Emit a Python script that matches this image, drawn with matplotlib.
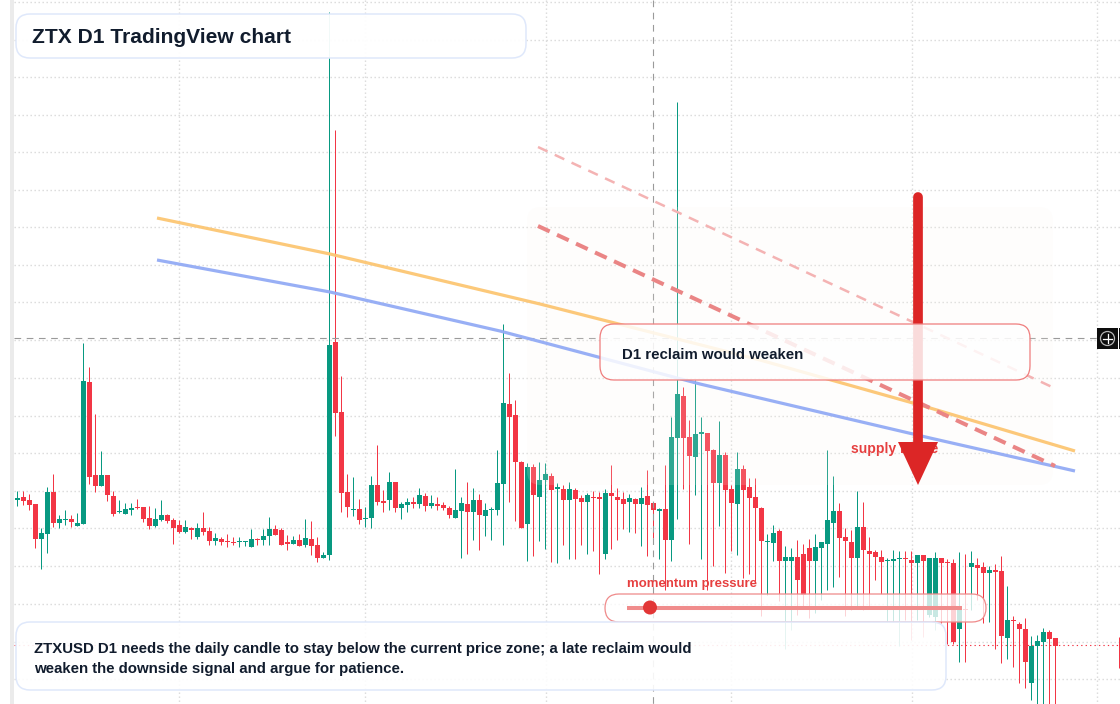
import matplotlib
matplotlib.use('Agg')
import matplotlib.pyplot as plt
from matplotlib.patches import Circle, FancyBboxPatch, Polygon, Rectangle

GREEN = '#089981'
RED = '#f23645'
INK = '#111c2d'
W, H = 1120, 704

# daily candles, levels on the chart's downward scale
high = [
    491, 491, 494, 504, 528, 487, 474, 515, 510, 515,
    513, 343, 367, 414, 451, 475, 491, 500, 503, 503,
    499, 507, 506, 508, 500, 514, 518, 520, 520, 527,
    523, 512, 527, 533, 537, 534, 537, 537, 541, 529,
    538, 529, 517, 525, 528, 535, 536, 534, 519, 521,
    537, 552, 12, 130, 376, 474, 477, 499, 507, 476,
    445, 490, 472, 482, 502, 498, 497, 488, 493, 495,
    497, 502, 506, 469, 497, 482, 488, 494, 503, 507,
    450, 324, 373, 400, 461, 463, 464, 462, 463, 473,
    483, 485, 482, 488, 495, 493, 491, 492, 489, 465,
    488, 492, 494, 498, 487, 470, 503, 508, 465, 417,
    102, 387, 420, 380, 417, 433, 449, 421, 452, 485,
    452, 465, 478, 478, 507, 534, 525, 529, 546, 548,
    540, 544, 539, 534, 542, 450, 476, 503, 528, 530,
    491, 502, 537, 550, 550, 558, 550, 551, 551, 551,
    555, 555, 558, 552, 558, 559, 559, 552, 554, 551,
    558, 562, 566, 564, 556, 586, 616, 622, 618, 636,
    635, 628, 630, 638,
]
body_top = [
    498, 497, 500, 504, 533, 492, 492, 519, 519, 519,
    523, 381, 382, 475, 475, 475, 496, 511, 509, 508,
    507, 507, 518, 519, 515, 515, 520, 525, 527, 528,
    528, 528, 531, 538, 539, 541, 542, 541, 541, 539,
    539, 536, 529, 529, 530, 542, 540, 540, 538, 539,
    545, 555, 345, 342, 412, 492, 509, 509, 518, 485,
    485, 501, 482, 482, 504, 502, 502, 495, 496, 503,
    504, 505, 508, 510, 503, 504, 500, 500, 510, 509,
    483, 403, 404, 415, 462, 467, 467, 480, 474, 476,
    487, 489, 489, 490, 498, 495, 497, 497, 493, 493,
    497, 499, 498, 499, 498, 496, 503, 509, 509, 437,
    394, 396, 437, 434, 432, 433, 450, 455, 455, 489,
    469, 469, 487, 497, 508, 541, 533, 531, 557, 557,
    557, 554, 548, 547, 542, 520, 511, 511, 537, 542,
    527, 527, 551, 552, 557, 560, 559, 558, 558, 560,
    555, 555, 558, 558, 558, 562, 563, 610, 609, 563,
    565, 567, 570, 570, 571, 620, 620, 624, 629, 646,
    641, 632, 632, 638,
]
body_bottom = [
    500, 501, 505, 539, 539, 534, 523, 523, 520, 522,
    526, 524, 477, 486, 486, 495, 514, 512, 514, 510,
    508, 519, 526, 526, 520, 521, 528, 532, 532, 530,
    537, 532, 541, 541, 542, 542, 543, 542, 542, 547,
    540, 540, 536, 535, 545, 544, 544, 546, 545, 546,
    558, 558, 555, 413, 493, 507, 510, 520, 519, 518,
    502, 503, 500, 508, 508, 505, 504, 504, 506, 506,
    506, 508, 515, 518, 511, 512, 512, 515, 516, 510,
    510, 484, 417, 462, 528, 524, 495, 497, 480, 490,
    489, 500, 500, 499, 502, 502, 498, 499, 554, 496,
    500, 504, 502, 504, 504, 505, 510, 511, 540, 540,
    438, 438, 456, 457, 434, 451, 483, 483, 490, 503,
    504, 490, 498, 508, 541, 542, 543, 561, 561, 561,
    580, 595, 561, 561, 548, 544, 523, 538, 541, 558,
    558, 550, 554, 557, 562, 561, 561, 559, 559, 563,
    563, 561, 615, 617, 563, 563, 642, 629, 610, 567,
    568, 573, 573, 572, 636, 638, 621, 629, 662, 683,
    646, 642, 639, 646,
]
low = [
    506, 505, 510, 548, 569, 553, 527, 528, 525, 527,
    526, 524, 484, 492, 486, 501, 516, 513, 514, 515,
    509, 522, 529, 527, 521, 523, 544, 533, 533, 539,
    539, 535, 545, 545, 545, 547, 545, 547, 546, 547,
    545, 545, 545, 535, 545, 550, 544, 546, 547, 555,
    562, 558, 560, 436, 512, 517, 516, 524, 527, 528,
    505, 512, 510, 512, 519, 512, 508, 508, 511, 508,
    510, 510, 518, 518, 558, 554, 540, 550, 536, 540,
    515, 545, 502, 521, 528, 561, 556, 541, 549, 562,
    563, 545, 559, 559, 545, 554, 551, 574, 559, 549,
    540, 529, 532, 533, 546, 556, 538, 559, 590, 561,
    519, 489, 544, 495, 559, 590, 566, 526, 573, 551,
    555, 578, 574, 581, 616, 595, 561, 601, 649, 630,
    615, 607, 618, 613, 600, 590, 587, 577, 616, 610,
    606, 610, 608, 580, 594, 622, 622, 646, 620, 640,
    620, 637, 617, 630, 623, 644, 644, 662, 662, 610,
    600, 623, 622, 649, 663, 659, 667, 683, 688, 700,
    710, 710, 710, 710,
]
direction = (
    'grrrggrggr' 'ggrrgrrggg' 'rrrggrrrgr' 'grrgrrrggg' 'rggrrrgrgr'
    'rggrrrgrgg' 'rrgrggrgrg' 'rrrggrgrgg' 'ggrrrgrggr' 'grgrrgrrgr'
    'rrgrgrrgrg' 'grrggrrgrr' 'grrrrggrgg' 'rrrggggrrr' 'grrrrgggrr'
    'grggrrrgrg' 'rrgrrgrrrg' 'ggrr'
)

grid_levels = [2, 40, 77, 115, 152, 190, 227, 265, 302, 340, 378, 416, 453, 491, 528, 566, 604, 642, 679]
grid_bars = [26.9, 57.9, 88.1, 118.9, 149.1, 179.9]
crosshair_level = 338.2
crosshair_bar = 105.96
last_level = 645
stray_bar, stray_high, stray_low = 183.6, 637, 668

# two averages and two resistance trend lines, in screen pixels
orange_x = [157, 330, 540, 760, 920, 1075]
orange_y = [218, 254, 304, 360, 405, 451]
blue_x = [157, 330, 500, 700, 930, 1075]
blue_y = [260, 292, 331, 384, 438, 471]
trend_x = [538, 1055]
trend_y = [226, 466]
upper_x = [538, 1052]
upper_y = [147, 387]

title = 'ZTX D1 TradingView chart'
callout = 'D1 reclaim would weaken'
zone_label = 'supply range'
pressure_label = 'momentum pressure'
note_lines = [
    'ZTXUSD D1 needs the daily candle to stay below the current price zone; a late reclaim would',
    'weaken the downside signal and argue for patience.',
]

plt.rcParams['font.family'] = ['Liberation Sans', 'DejaVu Sans']
fig = plt.figure(figsize=(W / 100, H / 100), dpi=100, facecolor='white')

# candle axes: one x unit is one bar, 6 px wide
chart = fig.add_axes([0, 0, 1, 1])
x_min, x_max = -17.5 / 6, (W - 17.5) / 6
chart.set_xlim(x_min, x_max)
chart.set_ylim(H, 0)
chart.axis('off')

left_edge = (14 - 17.5) / 6
dotted = [(0, (1.0, 1.88))]
chart.hlines(grid_levels, left_edge, x_max, color='#d9d9d9', lw=1.0, linestyles=dotted, zorder=1)
chart.vlines(grid_bars, 0, H, color='#d9d9d9', lw=1.0, linestyles=dotted, zorder=1)

for i in range(len(high)):
    color = GREEN if direction[i] == 'g' else RED
    # nudged so the 1 px wick snaps to the middle of the 5 px body
    chart.vlines(i - 0.04, high[i], low[i], color=color, lw=0.72, zorder=3)
    height = max(body_bottom[i] - body_top[i], 1)
    chart.bar(i, height, bottom=body_top[i], width=0.83, color=color, lw=0, zorder=4)
chart.vlines(stray_bar, stray_high, stray_low, color=RED, lw=0.72, zorder=3)

chart.hlines(last_level, left_edge, x_max, color=RED, lw=0.8, linestyles=[(0, (1.2, 2.8))], zorder=2)
chart.hlines(crosshair_level, left_edge, (1097 - 17.5) / 6, color='#9a9a9a', lw=0.8, linestyles=[(0, (6, 5))], zorder=5)
chart.vlines(crosshair_bar, 0, H, color='#9a9a9a', lw=0.8, linestyles=[(0, (6, 5))], zorder=5)

# everything annotated on top of the candles lives in pixel coordinates
top = fig.add_axes([0, 0, 1, 1])
top.set_xlim(0, W)
top.set_ylim(H, 0)
top.axis('off')
top.patch.set_alpha(0)


def rounded(x0, y0, x1, y1, radius, face, edge, lw, alpha=1.0, z=5):
    box = FancyBboxPatch((x0, y0), x1 - x0, y1 - y0, boxstyle=f'round,pad=0,rounding_size={radius}',
                         fc=matplotlib.colors.to_rgba(face, alpha), ec=edge, lw=lw, zorder=z)
    top.add_patch(box)


top.add_patch(Rectangle((10, 0), 4, H, color='#ebebeb', lw=0, zorder=1))
rounded(527, 207, 1053, 485, 14, '#fbf6ee', 'none', 0, alpha=0.16, z=2)

top.plot(orange_x, orange_y, color='#fcc673', lw=2.3, alpha=0.95, solid_capstyle='butt', zorder=3)
top.plot(blue_x, blue_y, color='#93abf5', lw=2.3, alpha=0.95, solid_capstyle='butt', zorder=3)
top.plot(upper_x, upper_y, color='#f4b3b3', lw=1.8, linestyle=(0, (4.2, 3.2)), zorder=3)
top.plot(trend_x, trend_y, color='#ea8585', lw=2.9, linestyle=(0, (3.2, 2.0)), zorder=3)

top.text(851, 449, zone_label, color='#e63f3f', fontsize=10.08, fontweight='bold', va='center', zorder=4)
top.plot([918, 918], [197, 445], color='#dc2626', lw=7, solid_capstyle='round', zorder=4)
top.add_patch(Polygon([(898, 442), (938, 442), (918, 485)], color='#dc2626', lw=0, zorder=4))

rounded(600, 324, 1030, 380, 14, 'white', '#ef7d7d', 0.9, alpha=0.84)
top.text(622, 355, callout, color=INK, fontsize=10.8, fontweight='bold', va='center', zorder=6)

top.text(627, 584, pressure_label, color='#e63f3f', fontsize=9.42, fontweight='bold', va='center', zorder=6)
rounded(605, 594, 986, 622, 14, 'white', '#ef8a8a', 0.9, alpha=0.78)
top.plot([627, 962], [607.5, 607.5], color='#f08c8c', lw=2.9, solid_capstyle='butt', zorder=6)
top.add_patch(Circle((650, 607.5), 7, color='#e23636', lw=0, zorder=7))

rounded(16, 622, 946, 690, 14, 'white', '#dfe8fb', 1.1, alpha=0.9, z=8)
top.text(34, 649, note_lines[0], color=INK, fontsize=10.83, fontweight='bold', va='center', zorder=9)
top.text(34, 669, note_lines[1], color=INK, fontsize=10.83, fontweight='bold', va='center', zorder=9)

rounded(16, 14, 526, 58, 14, 'white', '#dfe8fb', 1.1, alpha=0.95, z=8)
top.text(32, 37.5, title, color=INK, fontsize=15.1, fontweight='bold', va='center', zorder=9)

# crosshair button on the price scale
top.add_patch(Rectangle((1097, 328), 21, 21, color='#0d0d0d', lw=0, zorder=10))
top.add_patch(Rectangle((1119, 328), 1, 21, color='#0d0d0d', lw=0, zorder=10))
top.add_patch(Circle((1107.5, 338.5), 7, fc='none', ec='#b5b5b5', lw=0.9, zorder=11))
top.plot([1103, 1112], [338.5, 338.5], color='white', lw=0.9, zorder=11)
top.plot([1107.5, 1107.5], [334, 343], color='white', lw=0.9, zorder=11)

fig.savefig('out.png', dpi=100)
